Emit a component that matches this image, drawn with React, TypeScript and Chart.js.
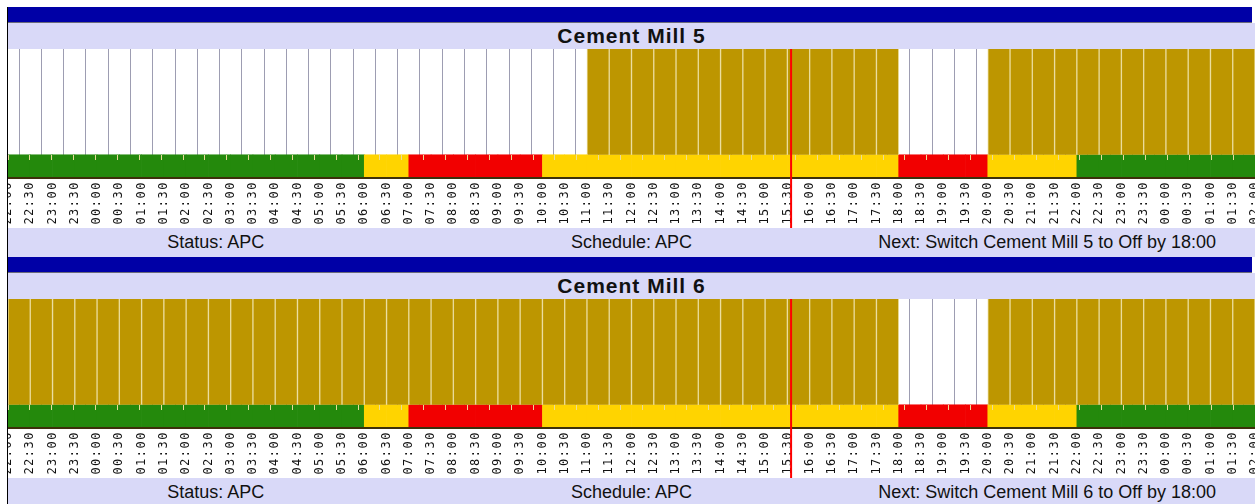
import React, { useEffect, useRef } from "react";
import { Chart, registerables } from "chart.js";

Chart.register(...registerables);

// ---- data ----
const AXIS_START = "d0 22:00";
const AXIS_END = "d2 02:00";
const SLOT_MINUTES = 30;

const TARIFF_FROM = ["d0 22:00", "d1 06:00", "d1 07:00", "d1 10:00", "d1 18:00", "d1 20:00", "d1 22:00"];
const TARIFF_TO = ["d1 06:00", "d1 07:00", "d1 10:00", "d1 18:00", "d1 20:00", "d1 22:00", "d2 02:00"];
const TARIFF_BAND = ["off-peak", "standard", "peak", "standard", "peak", "standard", "off-peak"];

const MILL_NAMES = ["Cement Mill 5", "Cement Mill 6"];
const MILL5_RUN_FROM = ["d1 11:00", "d1 20:00"];
const MILL5_RUN_TO = ["d1 18:00", "d2 02:00"];
const MILL6_RUN_FROM = ["d0 22:00", "d1 20:00"];
const MILL6_RUN_TO = ["d1 18:00", "d2 02:00"];

const NOW_TIME = "d1 15:35";
const STATUS = ["APC", "APC"];
const SCHEDULE = ["APC", "APC"];
const NEXT_ACTION = ["Switch Cement Mill 5 to Off by 18:00", "Switch Cement Mill 6 to Off by 18:00"];

// ---- styles ----
const BAND_COLORS: Record<string, string> = {
  "off-peak": "#24890c",
  standard: "#ffd400",
  peak: "#f20000",
};
const RUN_COLOR = "#bd9600";
const RUN_EDGE = "#eadb98";
const LAVENDER = "#d9d9f8";
const HEADER_BLUE = "#0000a6";
const STRIP_TOP = 18; // y-units (0..100)

const toMinBase = 22 * 60;
const toMin = (s: string) => {
  const [d, t] = s.split(" ");
  const day = parseInt(d.slice(1), 10);
  const [h, m] = t.split(":").map(Number);
  return day * 1440 + h * 60 + m - toMinBase;
};

const fmtTick = (v: number) => {
  const total = (((v + toMinBase) % 1440) + 1440) % 1440;
  const h = Math.floor(total / 60);
  const m = total % 60;
  return `${String(h).padStart(2, "0")}:${String(m).padStart(2, "0")}`;
};

const nowLinePlugin = {
  id: "nowLine",
  beforeDraw(chart: any) {
    (chart.ctx as any).letterSpacing = "1.5px";
  },
  afterDraw(chart: any, _args: any, opts: any) {
    const x = chart.scales.x.getPixelForValue(opts.value);
    const ctx = chart.ctx;
    ctx.save();
    ctx.strokeStyle = "#ff0000";
    ctx.lineWidth = 2;
    ctx.beginPath();
    ctx.moveTo(x, chart.chartArea.top);
    ctx.lineTo(x, chart.height);
    ctx.stroke();
    ctx.restore();
  },
};

function MillChart({ runFrom, runTo }: { runFrom: string[]; runTo: string[] }) {
  const ref = useRef<HTMLCanvasElement>(null);
  useEffect(() => {
    const start = toMin(AXIS_START);
    const end = toMin(AXIS_END);
    const tariffFrom = TARIFF_FROM.map(toMin);
    const tariffTo = TARIFF_TO.map(toMin);
    const rf = runFrom.map(toMin);
    const rt = runTo.map(toMin);

    const stripData: any[] = [];
    const stripColors: string[] = [];
    const runData: any[] = [];
    for (let t = start; t < end; t += SLOT_MINUTES) {
      const c = t + SLOT_MINUTES / 2;
      const bi = tariffFrom.findIndex((f, i) => t >= f && t < tariffTo[i]);
      stripData.push({ x: c, y: [0, STRIP_TOP] });
      stripColors.push(BAND_COLORS[TARIFF_BAND[bi]]);
      if (rf.some((f, i) => t >= f && t < rt[i])) runData.push({ x: c, y: [STRIP_TOP, 100] });
    }

    const chart = new Chart(ref.current!, {
      type: "bar",
      data: {
        datasets: [
          {
            label: "run",
            data: runData,
            backgroundColor: RUN_COLOR,
            borderColor: RUN_EDGE,
            borderWidth: { left: 1, right: 1, top: 0, bottom: 0 },
            borderSkipped: false,
            grouped: false,
            barPercentage: 1,
            categoryPercentage: 1,
          } as any,
          {
            label: "tariff",
            data: stripData,
            backgroundColor: stripColors,
            borderWidth: 0,
            grouped: false,
            barPercentage: 1,
            categoryPercentage: 1,
          } as any,
        ],
      },
      options: {
        animation: false,
        responsive: false,
        layout: { padding: 0 },
        plugins: {
          legend: { display: false },
          tooltip: { enabled: false },
          nowLine: { value: toMin(NOW_TIME) },
        } as any,
        scales: {
          x: {
            type: "linear",
            min: start,
            max: end,
            offset: false,
            ticks: {
              stepSize: SLOT_MINUTES,
              autoSkip: false,
              minRotation: 90,
              maxRotation: 90,
              padding: 3,
              callback: (v: any) => fmtTick(Number(v)),
              font: { family: "'DejaVu Sans Mono'", size: 12 },
              color: "#111",
            },
            grid: { color: "#9d9db2", lineWidth: 1, drawTicks: false },
            border: { display: true, color: "#3d300a", width: 2, z: 1 },
            afterFit: (s: any) => {
              s.height = 50;
              s.paddingLeft = 0;
              s.paddingRight = 0;
            },
          } as any,
          xMarks: {
            type: "linear",
            axis: "x",
            position: { y: STRIP_TOP },
            min: start,
            max: end,
            ticks: { display: false, stepSize: SLOT_MINUTES },
            grid: { drawOnChartArea: false, drawTicks: true, tickLength: 5, color: RUN_EDGE, z: 1 },
            border: { display: false },
            afterFit: (s: any) => {
              s.paddingLeft = 0;
              s.paddingRight = 0;
            },
          } as any,
          y: { type: "linear", min: 0, max: 100, display: false },
        },
      },
      plugins: [nowLinePlugin],
    });
    return () => chart.destroy();
  }, []);
  return <canvas ref={ref} width={1247} height={179} style={{ display: "block" }} />;
}

const textFont = "'Liberation Sans', Arial, sans-serif";

function Panel({ idx, runFrom, runTo }: { idx: number; runFrom: string[]; runTo: string[] }) {
  return (
    <div style={{ position: "absolute", left: 8, top: 7 + idx * 250, width: 1247, height: 250 }}>
      <div style={{ width: 1244, height: 15, background: HEADER_BLUE, borderBottom: "1px solid #6a6a7a" }} />
      <div
        style={{
          height: 26,
          background: LAVENDER,
          display: "flex",
          alignItems: "center",
          justifyContent: "center",
          fontFamily: textFont,
          fontWeight: "bold",
          fontSize: 21,
          letterSpacing: "1px",
          color: "#111",
        }}
      >
        {MILL_NAMES[idx]}
      </div>
      <MillChart runFrom={runFrom} runTo={runTo} />
      <div
        style={{
          height: 29,
          background: LAVENDER,
          display: "flex",
          alignItems: "center",
          fontFamily: textFont,
          fontSize: 18,
          color: "#111",
        }}
      >
        <div style={{ flex: 1, textAlign: "center" }}>Status: {STATUS[idx]}</div>
        <div style={{ flex: 1, textAlign: "center" }}>Schedule: {SCHEDULE[idx]}</div>
        <div style={{ flex: 1, textAlign: "center" }}>Next: {NEXT_ACTION[idx]}</div>
      </div>
    </div>
  );
}

export default function App() {
  return (
    <div style={{ position: "fixed", left: 0, top: 0, width: 1255, height: 504, overflow: "hidden", background: "#fff" }}>
      <div style={{ position: "absolute", left: 7, top: 7, width: 1, height: 497, background: "#000" }} />
      <Panel idx={0} runFrom={MILL5_RUN_FROM} runTo={MILL5_RUN_TO} />
      <Panel idx={1} runFrom={MILL6_RUN_FROM} runTo={MILL6_RUN_TO} />
    </div>
  );
}
